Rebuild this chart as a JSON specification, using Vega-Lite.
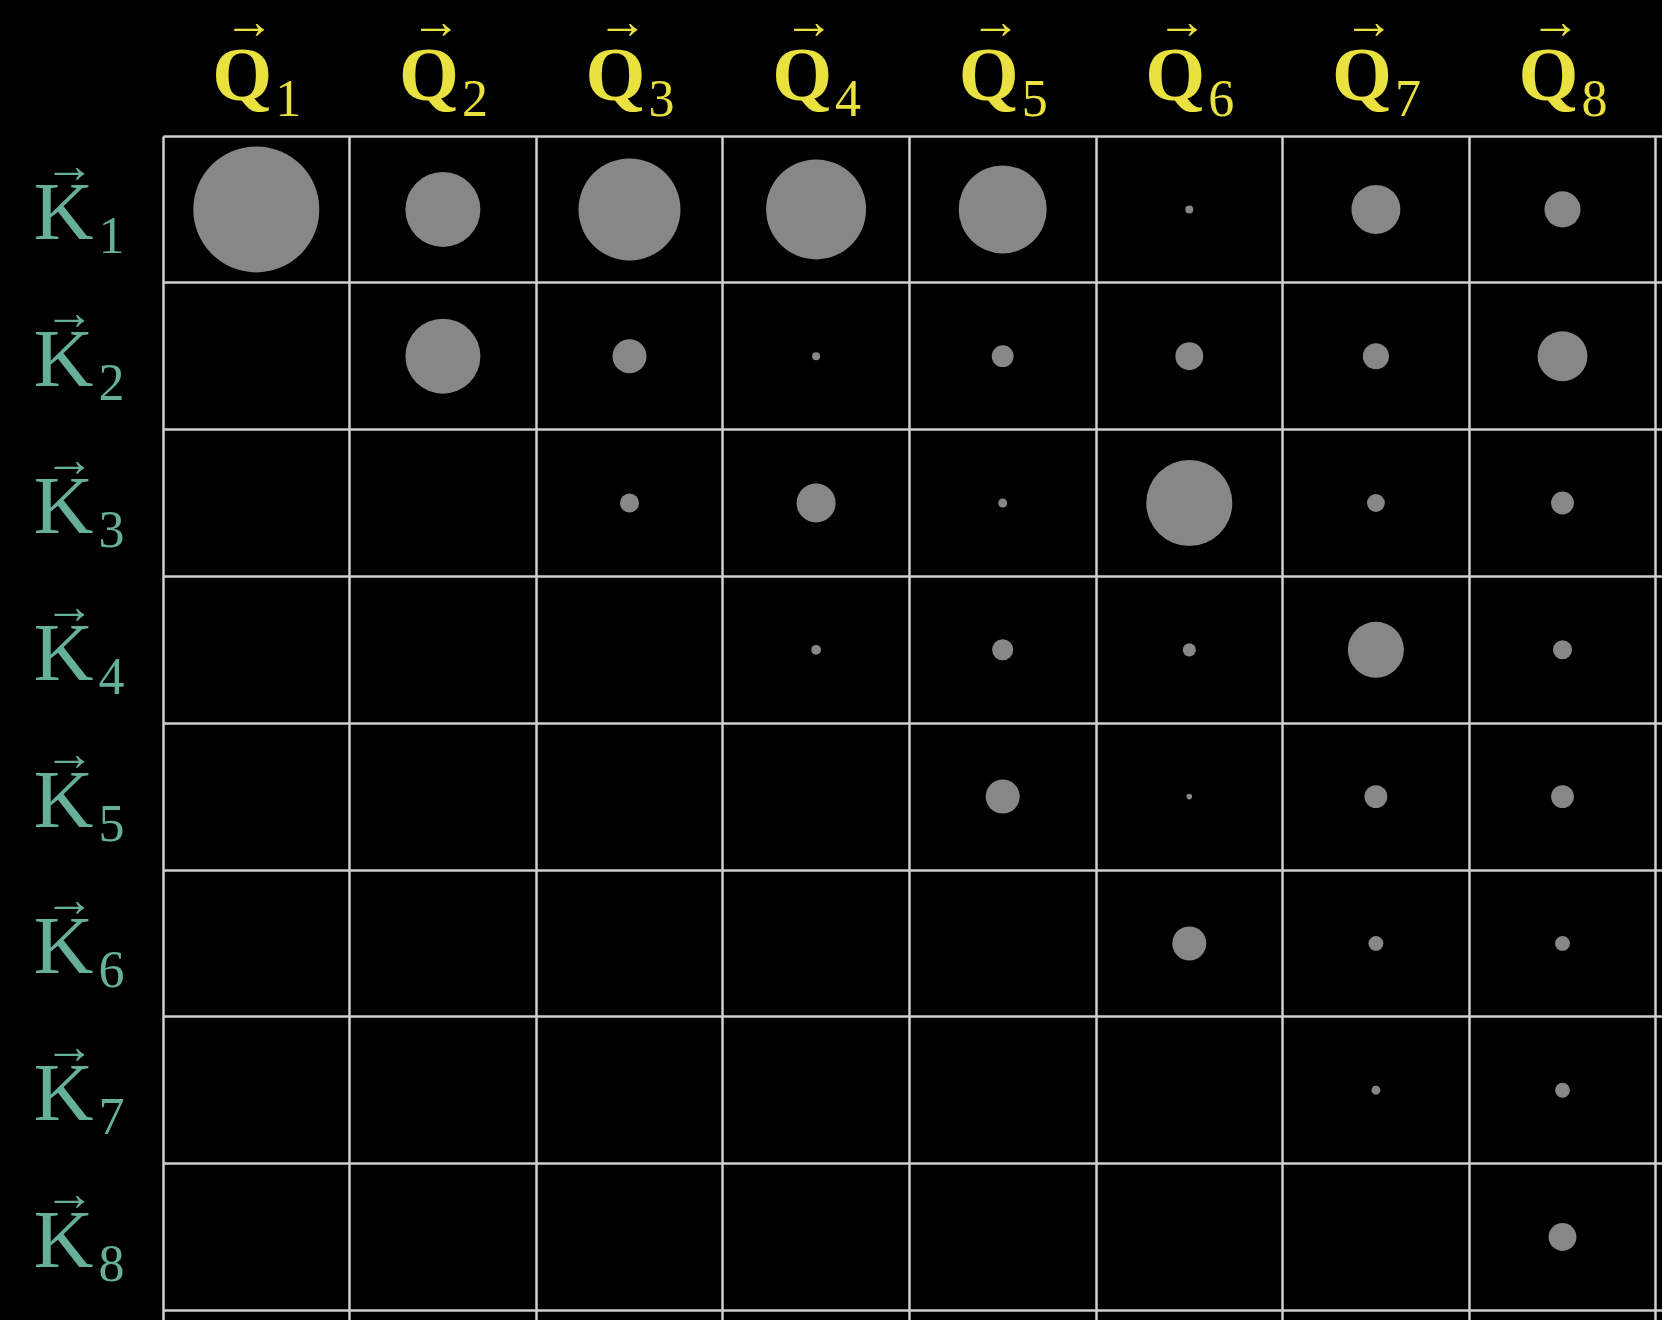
{
  "$schema": "https://vega.github.io/schema/vega-lite/v6.json",
  "width": 1499,
  "height": 1184,
  "autosize": {"type": "none"},
  "padding": {"left": 163, "top": 136, "right": 0, "bottom": 0},
  "background": "#000000",
  "config": {"view": {"stroke": null}},
  "data": {"values": [
    {"q": "Q1", "k": "K1", "w": 1.0},
    {"q": "Q2", "k": "K1", "w": 0.354},
    {"q": "Q3", "k": "K1", "w": 0.655},
    {"q": "Q4", "k": "K1", "w": 0.63},
    {"q": "Q5", "k": "K1", "w": 0.488},
    {"q": "Q6", "k": "K1", "w": 0.004},
    {"q": "Q7", "k": "K1", "w": 0.151},
    {"q": "Q8", "k": "K1", "w": 0.082},
    {"q": "Q2", "k": "K2", "w": 0.354},
    {"q": "Q3", "k": "K2", "w": 0.073},
    {"q": "Q4", "k": "K2", "w": 0.004},
    {"q": "Q5", "k": "K2", "w": 0.03},
    {"q": "Q6", "k": "K2", "w": 0.049},
    {"q": "Q7", "k": "K2", "w": 0.043},
    {"q": "Q8", "k": "K2", "w": 0.157},
    {"q": "Q3", "k": "K3", "w": 0.023},
    {"q": "Q4", "k": "K3", "w": 0.096},
    {"q": "Q5", "k": "K3", "w": 0.005},
    {"q": "Q6", "k": "K3", "w": 0.466},
    {"q": "Q7", "k": "K3", "w": 0.02},
    {"q": "Q8", "k": "K3", "w": 0.033},
    {"q": "Q4", "k": "K4", "w": 0.006},
    {"q": "Q5", "k": "K4", "w": 0.028},
    {"q": "Q6", "k": "K4", "w": 0.011},
    {"q": "Q7", "k": "K4", "w": 0.198},
    {"q": "Q8", "k": "K4", "w": 0.023},
    {"q": "Q5", "k": "K5", "w": 0.073},
    {"q": "Q6", "k": "K5", "w": 0.002},
    {"q": "Q7", "k": "K5", "w": 0.033},
    {"q": "Q8", "k": "K5", "w": 0.033},
    {"q": "Q6", "k": "K6", "w": 0.073},
    {"q": "Q7", "k": "K6", "w": 0.014},
    {"q": "Q8", "k": "K6", "w": 0.014},
    {"q": "Q7", "k": "K7", "w": 0.005},
    {"q": "Q8", "k": "K7", "w": 0.014},
    {"q": "Q8", "k": "K8", "w": 0.049}
  ]},
  "layer": [
    {
      "mark": {"type": "circle", "color": "#878787", "opacity": 1},
      "encoding": {
        "x": {"field": "q", "type": "nominal",
          "scale": {"type": "band", "domain": ["Q1","Q2","Q3","Q4","Q5","Q6","Q7","Q8","Q9"], "range": [0, 1679.4], "paddingInner": 0, "paddingOuter": 0},
          "axis": {"orient": "top", "title": null, "grid": true, "bandPosition": 0, "labels": false, "ticks": false, "domain": false, "gridColor": "#cfcfcf", "gridWidth": 2.5, "gridOpacity": 1}},
        "y": {"field": "k", "type": "nominal",
          "scale": {"type": "band", "domain": ["K1","K2","K3","K4","K5","K6","K7","K8","K9"], "range": [0, 1321.2], "paddingInner": 0, "paddingOuter": 0},
          "axis": {"orient": "left", "title": null, "grid": true, "bandPosition": 0, "labels": false, "ticks": false, "domain": false, "gridColor": "#cfcfcf", "gridWidth": 2.5, "gridOpacity": 1}},
        "size": {"field": "w", "type": "quantitative", "scale": {"type": "linear", "domain": [0, 1], "range": [0, 15876]}, "legend": null}
      }
    },
    {
      "mark": {"type": "point", "opacity": 0},
      "encoding": {
        "x": {"field": "q", "type": "nominal",
          "scale": {"type": "band", "domain": ["Q1","Q2","Q3","Q4","Q5","Q6","Q7","Q8","Q9"], "range": [0, 1679.4], "paddingInner": 0, "paddingOuter": 0},
          "axis": {"orient": "top", "title": null, "grid": false, "ticks": false, "domain": false, "values": ["Q1","Q2","Q3","Q4","Q5","Q6","Q7","Q8"],
            "labelExpr": "slice(datum.value, 0, 1)", "labelFont": "Liberation Serif", "labelFontWeight": "bold", "labelFontSize": 77, "labelColor": "#E9E13F", "labelAngle": 0,
            "labelAlign": "center", "labelBaseline": "alphabetic", "labelPadding": 37, "labelOffset": -14, "labelOverlap": false, "labelLimit": 0}},
        "y": {"field": "k", "type": "nominal",
          "scale": {"type": "band", "domain": ["K1","K2","K3","K4","K5","K6","K7","K8","K9"], "range": [0, 1321.2], "paddingInner": 0, "paddingOuter": 0},
          "axis": {"orient": "left", "title": null, "grid": false, "ticks": false, "domain": false, "values": ["K1","K2","K3","K4","K5","K6","K7","K8"],
            "labelExpr": "slice(datum.value, 0, 1)", "labelFont": "Liberation Serif", "labelFontWeight": "normal", "labelFontSize": 83, "labelColor": "#66B09B", "labelAngle": 0,
            "labelAlign": "right", "labelBaseline": "alphabetic", "labelPadding": 70, "labelOffset": 30, "labelOverlap": false, "labelLimit": 0}}
      }
    },
    {
      "mark": {"type": "point", "opacity": 0},
      "encoding": {
        "x": {"field": "q", "type": "nominal",
          "scale": {"type": "band", "domain": ["Q1","Q2","Q3","Q4","Q5","Q6","Q7","Q8","Q9"], "range": [0, 1679.4], "paddingInner": 0, "paddingOuter": 0},
          "axis": {"orient": "top", "title": null, "grid": false, "ticks": false, "domain": false, "values": ["Q1","Q2","Q3","Q4","Q5","Q6","Q7","Q8"],
            "labelExpr": "slice(datum.value, 1)", "labelFont": "Liberation Serif", "labelFontSize": 52, "labelColor": "#E9E13F", "labelAngle": 0,
            "labelAlign": "left", "labelBaseline": "alphabetic", "labelPadding": 21, "labelOffset": 19, "labelOverlap": false, "labelLimit": 0}},
        "y": {"field": "k", "type": "nominal",
          "scale": {"type": "band", "domain": ["K1","K2","K3","K4","K5","K6","K7","K8","K9"], "range": [0, 1321.2], "paddingInner": 0, "paddingOuter": 0},
          "axis": {"orient": "left", "title": null, "grid": false, "ticks": false, "domain": false, "values": ["K1","K2","K3","K4","K5","K6","K7","K8"],
            "labelExpr": "slice(datum.value, 1)", "labelFont": "Liberation Serif", "labelFontSize": 52, "labelColor": "#66B09B", "labelAngle": 0,
            "labelAlign": "left", "labelBaseline": "alphabetic", "labelPadding": 65, "labelOffset": 44, "labelOverlap": false, "labelLimit": 0}}
      }
    },
    {
      "mark": {"type": "point", "opacity": 0},
      "encoding": {
        "x": {"field": "q", "type": "nominal",
          "scale": {"type": "band", "domain": ["Q1","Q2","Q3","Q4","Q5","Q6","Q7","Q8","Q9"], "range": [0, 1679.4], "paddingInner": 0, "paddingOuter": 0},
          "axis": {"orient": "top", "title": null, "grid": false, "ticks": false, "domain": false, "values": ["Q1","Q2","Q3","Q4","Q5","Q6","Q7","Q8"],
            "labelExpr": "'\u2192'", "labelFont": "Liberation Serif", "labelFontSize": 50, "labelColor": "#E9E13F", "labelAngle": 0,
            "labelAlign": "center", "labelBaseline": "alphabetic", "labelPadding": 99, "labelOffset": -7, "labelOverlap": false, "labelLimit": 0}},
        "y": {"field": "k", "type": "nominal",
          "scale": {"type": "band", "domain": ["K1","K2","K3","K4","K5","K6","K7","K8","K9"], "range": [0, 1321.2], "paddingInner": 0, "paddingOuter": 0},
          "axis": {"orient": "left", "title": null, "grid": false, "ticks": false, "domain": false, "values": ["K1","K2","K3","K4","K5","K6","K7","K8"],
            "labelExpr": "'\u2192'", "labelFont": "Liberation Serif", "labelFontSize": 50, "labelColor": "#66B09B", "labelAngle": 0,
            "labelAlign": "center", "labelBaseline": "alphabetic", "labelPadding": 94, "labelOffset": -27, "labelOverlap": false, "labelLimit": 0}}
      }
    }
  ],
  "resolve": {"axis": {"x": "independent", "y": "independent"}}
}
